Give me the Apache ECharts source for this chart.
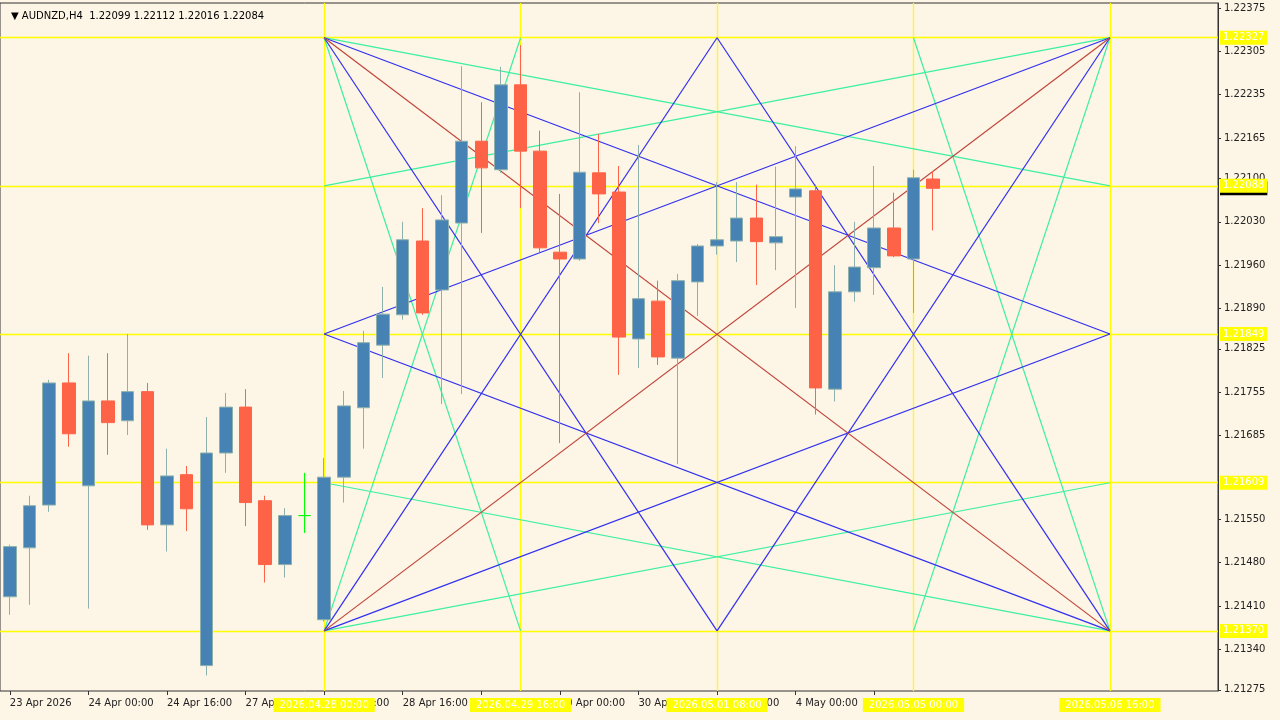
<!DOCTYPE html>
<html>
<head>
<meta charset="utf-8">
<script src="https://cdn.jsdelivr.net/npm/echarts@6/dist/echarts.min.js"></script>
<style>
html,body{margin:0;padding:0;background:#fdf5e6;}
#myChart{width:1280px;height:720px;}
</style>
</head>
<body>
<div id="myChart"></div>
<script>
// bar times (H4), last ones are future bars
var barTimes = [
  '2026.04.23 08:00','2026.04.23 12:00','2026.04.23 16:00','2026.04.23 20:00',
  '2026.04.24 00:00','2026.04.24 04:00','2026.04.24 08:00','2026.04.24 12:00','2026.04.24 16:00','2026.04.24 20:00',
  '2026.04.27 00:00','2026.04.27 04:00','2026.04.27 08:00','2026.04.27 12:00','2026.04.27 16:00','2026.04.27 20:00',
  '2026.04.28 00:00','2026.04.28 04:00','2026.04.28 08:00','2026.04.28 12:00','2026.04.28 16:00','2026.04.28 20:00',
  '2026.04.29 00:00','2026.04.29 04:00','2026.04.29 08:00','2026.04.29 12:00','2026.04.29 16:00','2026.04.29 20:00',
  '2026.04.30 00:00','2026.04.30 04:00','2026.04.30 08:00','2026.04.30 12:00','2026.04.30 16:00','2026.04.30 20:00',
  '2026.05.01 00:00','2026.05.01 04:00','2026.05.01 08:00','2026.05.01 12:00','2026.05.01 16:00','2026.05.01 20:00',
  '2026.05.04 00:00','2026.05.04 04:00','2026.05.04 08:00','2026.05.04 12:00','2026.05.04 16:00','2026.05.04 20:00',
  '2026.05.05 00:00','2026.05.05 04:00','2026.05.05 08:00','2026.05.05 12:00','2026.05.05 16:00','2026.05.05 20:00',
  '2026.05.06 00:00','2026.05.06 04:00','2026.05.06 08:00','2026.05.06 12:00','2026.05.06 16:00','2026.05.06 20:00',
  '2026.05.07 00:00','2026.05.07 04:00','2026.05.07 08:00','2026.05.07 12:00'
];
// shown time labels on the bottom scale (index -> text)
var timeLabels = {0:'23 Apr 2026',4:'24 Apr 00:00',8:'24 Apr 16:00',12:'27 Apr 08:00',16:'28 Apr 00:00',
  20:'28 Apr 16:00',24:'29 Apr 08:00',28:'30 Apr 00:00',32:'30 Apr 16:00',36:'1 May 08:00',40:'4 May 00:00',44:'4 May 16:00'};

var opens  = [1.21425,1.21504,1.21573,1.21770,1.21604,1.21741,1.21709,1.21756,1.21541,1.21622,
              1.21314,1.21657,1.21731,1.21580,1.21477,1.21556,1.21388,1.21618,1.21730,1.21831,
              1.21880,1.21999,1.21920,1.22028,1.22160,1.22114,1.22251,1.22144,1.21981,1.21970,
              1.22109,1.22078,1.21841,1.21902,1.21810,1.21933,1.21991,1.21999,1.22036,1.21996,
              1.22070,1.22080,1.21760,1.21917,1.21956,1.22020,1.21970,1.22099];
var closes = [1.21506,1.21572,1.21770,1.21688,1.21741,1.21706,1.21756,1.21541,1.21620,1.21567,
              1.21657,1.21731,1.21577,1.21477,1.21556,1.21556,1.21618,1.21733,1.21835,1.21881,
              1.22001,1.21883,1.22033,1.22160,1.22117,1.22251,1.22144,1.21988,1.21970,1.22110,
              1.22075,1.21844,1.21906,1.21812,1.21935,1.21991,1.22001,1.22036,1.21998,1.22006,
              1.22083,1.21762,1.21917,1.21957,1.22020,1.21975,1.22101,1.22084];
var lows   = [1.21396,1.21412,1.21562,1.21667,1.21406,1.21654,1.21686,1.21533,1.21498,1.21531,
              1.21298,1.21625,1.21539,1.21448,1.21456,1.21528,1.21385,1.21577,1.21664,1.21778,
              1.21872,1.21880,1.21736,1.21752,1.22012,1.22109,1.22052,1.21981,1.21673,1.21967,
              1.22028,1.21783,1.21794,1.21799,1.21639,1.21878,1.21977,1.21965,1.21928,1.21952,
              1.21891,1.21719,1.21740,1.21901,1.21912,1.21973,1.21883,1.22016];
var highs  = [1.21509,1.21588,1.21775,1.21818,1.21814,1.21818,1.21849,1.21770,1.21664,1.21636,
              1.21715,1.21754,1.21760,1.21588,1.21568,1.21625,1.21649,1.21757,1.21854,1.21925,
              1.22030,1.22052,1.22073,1.22281,1.22223,1.22280,1.22315,1.22177,1.22075,1.22239,
              1.22172,1.22120,1.22154,1.21935,1.21946,1.21994,1.22094,1.22094,1.22090,1.22119,
              1.22152,1.22090,1.21960,1.22030,1.22120,1.22077,1.22114,1.22112];

// price scale labels on the right
var priceTicks = [1.22375,1.22305,1.22235,1.22165,1.22100,1.22030,1.21960,1.21890,1.21825,
                  1.21755,1.21685,1.21550,1.21480,1.21410,1.21340,1.21275];
// grid levels (yellow lines) and time grid bars
var levels = [1.22327,1.22088,1.21849,1.21609,1.21370];
var gridBars = [16,26,36,46,56];
var currentPrice = [1.22084];

// fan lines as [fromBar, fromLevel, toBar, toLevel] (level = index into levels)
var redLines   = [[16,0,56,4],[16,4,56,0]];
var blueLines  = [[16,0,36,4],[36,4,56,0],[16,4,36,0],[36,0,56,4],
                  [16,0,56,2],[16,4,56,2],[16,2,56,0],[16,2,56,4]];
var greenLines = [[16,0,26,4],[16,4,26,0],[46,0,56,4],[46,4,56,0],
                  [16,0,56,1],[16,1,56,0],[16,4,56,3],[16,3,56,4]];

var myChart = echarts.init(document.getElementById('myChart'));
var font = 'DejaVu Sans';
var yMin = 1.21273, yMax = 1.22383;

var kData = [];
for (var i = 0; i < opens.length; i++) {
    kData.push([opens[i], closes[i], lows[i], highs[i]]);
}

function fan(list, color){
    var d = [];
    for (var k = 0; k < list.length; k++) {
        var s = list[k];
        d.push([{coord: [barTimes[s[0]], levels[s[1]]]}, {coord: [barTimes[s[2]], levels[s[3]]]}]);
    }
    return {
        type: 'line', data: [], xAxisIndex: 0, yAxisIndex: 0,
        markLine: {silent: true, symbol: 'none', animation: false, label: {show: false},
            lineStyle: {color: color, width: 1.2, type: 'solid'}, data: d}
    };
}

var option = {
    backgroundColor: '#fdf5e6',
    animation: false,
    title: {text: '\u25BC AUDNZD,H4  1.22099 1.22112 1.22016 1.22084', left: 6, top: 6,
        textStyle: {fontFamily: font, fontSize: 10, fontWeight: 'normal', color: '#000'}},
    grid: {left: -4, right: 62, top: 3, bottom: 29, show: true, borderColor: '#333', borderWidth: 1, backgroundColor: 'transparent'},
    xAxis: [
        {
            type: 'category', data: barTimes, boundaryGap: true, position: 'bottom',
            axisLine: {show: false},
            axisTick: {show: true, alignWithLabel: true, length: 4, lineStyle: {color: '#333'},
                interval: function(idx){ return timeLabels[idx] !== undefined; }},
            axisLabel: {fontFamily: font, fontSize: 10, color: '#222', align: 'left', margin: 7,
                interval: function(idx){ return timeLabels[idx] !== undefined; },
                formatter: function(v, idx){ return timeLabels[idx] || ''; }},
            splitLine: {show: false}
        },
        {
            // yellow time grid: full-height ticks plus highlighted labels
            type: 'category', data: barTimes, boundaryGap: true, position: 'bottom',
            axisLine: {show: false},
            axisTick: {show: true, inside: true, alignWithLabel: true, length: 688,
                lineStyle: {color: '#ffff00', width: 1.3},
                interval: function(idx){ return gridBars.indexOf(idx) >= 0; }},
            axisLabel: {fontFamily: font, fontSize: 10, color: '#fff', margin: 7,
                backgroundColor: '#ffff00', padding: [2, 6, 2, 6],
                interval: function(idx){ return gridBars.indexOf(idx) >= 0; },
                formatter: function(v){ return v; }}
        }
    ],
    yAxis: [
        {
            type: 'value', position: 'right', min: yMin, max: yMax,
            axisLine: {show: true, lineStyle: {color: '#333'}},
            axisTick: {show: true, length: 3, customValues: priceTicks, lineStyle: {color: '#333'}},
            axisLabel: {fontFamily: font, fontSize: 10, color: '#222', margin: 6,
                customValues: priceTicks, formatter: function(v){ return v.toFixed(5); }},
            splitLine: {show: false}
        },
        {
            // current price marker
            type: 'value', position: 'right', min: yMin, max: yMax,
            axisLine: {show: false}, axisTick: {show: false}, splitLine: {show: false},
            axisLabel: {fontFamily: font, fontSize: 10, color: '#fff', margin: 2,
                backgroundColor: '#000', padding: [2, 3, 2, 3],
                customValues: currentPrice, formatter: function(v){ return v.toFixed(5); }}
        },
        {
            // yellow level grid: full-width ticks plus highlighted labels
            type: 'value', position: 'right', min: yMin, max: yMax,
            axisLine: {show: false}, splitLine: {show: false},
            axisTick: {show: true, inside: true, length: 1222, customValues: levels,
                lineStyle: {color: '#ffff00', width: 1.3}},
            axisLabel: {fontFamily: font, fontSize: 10, color: '#fff', margin: 2,
                backgroundColor: '#ffff00', padding: [2, 3, 2, 3],
                customValues: levels, formatter: function(v){ return v.toFixed(5); }}
        }
    ],
    series: [
        fan(greenLines, '#3cf0a0'),
        fan(blueLines, '#3030f0'),
        fan(redLines, '#c0453a'),
        {
            type: 'candlestick', name: 'AUDNZD', data: kData, barWidth: 13,
            itemStyle: {
                color: '#4682b4', color0: '#ff6347',
                borderColor: '#8db0ad', borderColor0: '#ff6347',
                borderColorDoji: '#00ff00', borderWidth: 1
            },
            z: 5
        }
    ]
};
myChart.setOption(option);
</script>
</body>
</html>
